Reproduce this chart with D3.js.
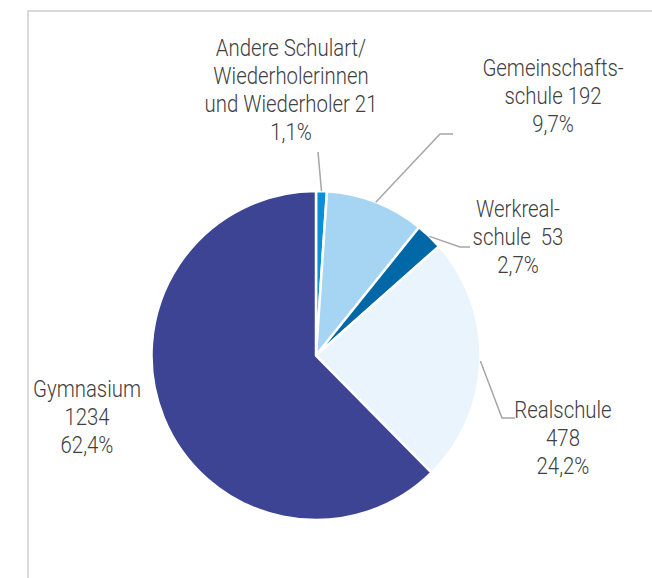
<!DOCTYPE html>
<html>
<head>
<meta charset="utf-8">
<script src="https://cdn.jsdelivr.net/npm/d3@7"></script>
<style>
  body { margin: 0; background: #fff; }
  svg text { font-family: Roboto, "Open Sans", "DejaVu Sans Condensed", sans-serif; font-weight: 300; white-space: pre; }
</style>
</head>
<body>
<svg id="chart" width="652" height="578"></svg>
<script>
// data, clockwise from 12 o'clock
const categories = ["Andere", "Gemeinschaftsschule", "Werkrealschule", "Realschule", "Gymnasium"];
const values = [21, 192, 53, 478, 1234];
const labelLines = [
    ["Andere Schulart/", "Wiederholerinnen", "und Wiederholer 21"],
    ["Gemeinschafts-", "schule 192"],
    ["Werkreal-", "schule  53"],
    ["Realschule", "478"],
    ["Gymnasium", "1234"]
];
const colors = ["#0b8fd6", "#a6d5f3", "#0068a7", "#e9f4fd", "#3c4493"];

let svg = d3.select("#chart");
let cx = 316, cy = 355.5, radius = 164.5;
let fontSize = 24.5;

// frame (top + left only)
svg.append("path")
    .attr("d", "M28,578 V11 H652")
    .attr("fill", "none")
    .attr("stroke", "#d9d9d9")
    .attr("stroke-width", 2);

let total = d3.sum(values);
let pct = v => d3.format(".1f")(v / total * 100).replace(".", ",") + "%";

let pie = d3.pie().sort(null).value(d => d)(values);
let arc = d3.arc().innerRadius(0).outerRadius(radius);

let g = svg.append("g").attr("transform", "translate(" + cx + "," + cy + ")");

g.selectAll("path.slice")
    .data(pie)
    .enter().append("path")
    .attr("class", "slice")
    .attr("d", arc)
    .attr("fill", (d, i) => colors[i])
    .attr("stroke", "#fff")
    .attr("stroke-width", 2.5)
    .attr("stroke-linejoin", "round");

// label anchors (text center x, first baseline y) and leader elbows
let labelPos = [
    {x: 291, y: 56, leader: [[318 - cx, 152 - cy]]},
    {x: 553, y: 76, leader: [[440 - cx, 134 - cy], [453 - cx, 134 - cy]]},
    {x: 518, y: 217, leader: [[460 - cx, 247 - cy], [470 - cx, 247 - cy]]},
    {x: 563, y: 418, leader: [[502 - cx, 418 - cy], [515 - cx, 418 - cy]]},
    {x: 87, y: 397, leader: null}
];

// squeeze the font so "und Wiederholer 21" is ~173px wide like the condensed original
let probe = svg.append("text").attr("font-size", fontSize).text("und Wiederholer 21");
let squeeze = 173 / probe.node().getComputedTextLength();
probe.remove();

let outer = d3.arc().innerRadius(radius).outerRadius(radius);

pie.forEach(function (d, i) {
    let p = labelPos[i];
    if (p.leader) {
        let start = outer.centroid(d);
        g.append("path")
            .attr("d", d3.line()([start].concat(p.leader)))
            .attr("fill", "none")
            .attr("stroke", "#a6a6a6")
            .attr("stroke-width", 1.5);
    }
    let lines = labelLines[i].concat([pct(values[i])]);
    let t = svg.append("text")
        .attr("transform", "translate(" + p.x + ",0) scale(" + squeeze + ",1)")
        .attr("text-anchor", "middle")
        .attr("fill", "#404040")
        .attr("font-size", fontSize);
    lines.forEach(function (l, j) {
        t.append("tspan")
            .attr("x", 0)
            .attr("y", p.y + j * 28)
            .text(l);
    });
});
</script>
</body>
</html>
